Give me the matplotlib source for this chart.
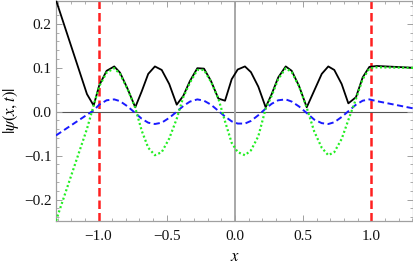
import matplotlib
matplotlib.use('Agg')
import matplotlib.pyplot as plt
from matplotlib.ticker import MultipleLocator

# sample points shared by all three curves
x = [-1.312, -1.085, -1.036, -0.995, -0.941, -0.885, -0.843, -0.787, -0.731, -0.684,
     -0.636, -0.587, -0.537, -0.482, -0.427, -0.379, -0.330, -0.276, -0.227, -0.176,
     -0.122, -0.073, -0.024, 0.020, 0.073, 0.117, 0.171, 0.225, 0.269, 0.317,
     0.372, 0.416, 0.469, 0.526, 0.581, 0.636, 0.684, 0.728, 0.782, 0.831,
     0.887, 0.936, 0.985, 1.040, 1.307]
# |psi|
psi_abs = [0.254, 0.040, 0.014, 0.060, 0.093, 0.103, 0.089, 0.052, 0.010, 0.046,
           0.086, 0.103, 0.095, 0.063, 0.016, 0.036, 0.070, 0.099, 0.098, 0.070,
           0.030, 0.025, 0.074, 0.096, 0.103, 0.090, 0.057, 0.010, 0.040, 0.078,
           0.103, 0.093, 0.059, 0.010, 0.048, 0.086, 0.103, 0.095, 0.063, 0.019,
           0.033, 0.078, 0.102, 0.104, 0.100]
# real part
psi_re = [-0.248, -0.039, 0.014, 0.058, 0.089, 0.099, 0.086, 0.051, 0.009, -0.043,
          -0.082, -0.099, -0.092, -0.061, -0.016, 0.033, 0.066, 0.095, 0.095, 0.068,
          0.030, -0.022, -0.071, -0.092, -0.099, -0.088, -0.056, 0.007, 0.036, 0.074,
          0.099, 0.090, 0.058, 0.009, -0.045, -0.082, -0.099, -0.092, -0.062, -0.019,
          0.029, 0.074, 0.098, 0.101, 0.0997]
# imaginary part
psi_im = [-0.054, -0.007, 0.003, 0.016, 0.026, 0.028, 0.024, 0.012, -0.003, -0.016,
          -0.025, -0.028, -0.025, -0.014, 0.000, 0.013, 0.023, 0.028, 0.025, 0.016,
          0.002, -0.011, -0.022, -0.027, -0.027, -0.021, -0.008, 0.007, 0.018, 0.026,
          0.028, 0.023, 0.012, -0.003, -0.018, -0.026, -0.028, -0.024, -0.012, 0.001,
          0.016, 0.025, 0.028, 0.024, 0.0075]
walls = [-1.0, 1.0]

plt.rcParams['font.family'] = ['Liberation Serif', 'DejaVu Serif']
plt.rcParams['mathtext.fontset'] = 'stix'

fig = plt.figure(figsize=(4.14, 2.65), dpi=100)
ax = fig.add_axes([56 / 414, 1 - 220.7 / 265, 357 / 414, 220.2 / 265])

frame_c = '#a0a0a0'
ax.axhline(0, color='#555555', lw=0.8, zorder=1)
ax.axvline(0, color='#a8a8a8', lw=1.4, zorder=1)
for w in walls:
    ax.axvline(w, color='#ff2020', lw=1.8, ls=(0, (3.4, 1.6)), zorder=2)

ax.plot(x, psi_abs, color='black', lw=1.3, zorder=3)
ax.plot(x, psi_im, color='#1a1aff', lw=1.4, ls=(0, (3.2, 1.8)), zorder=4)
ax.plot(x, psi_re, color='#22ee22', lw=1.6, ls=(0, (0.9, 1.1)), zorder=5)

ax.set_xlim(-1.312, 1.305)
ax.set_ylim(-0.248, 0.253)
ax.xaxis.set_major_locator(MultipleLocator(0.5))
ax.xaxis.set_minor_locator(MultipleLocator(0.1))
ax.yaxis.set_major_locator(MultipleLocator(0.1))
ax.yaxis.set_minor_locator(MultipleLocator(0.02))
ax.xaxis.set_major_formatter(plt.FuncFormatter(lambda v, p: f'{v:.1f}'.replace('-', '\u2212')))
ax.yaxis.set_major_formatter(plt.FuncFormatter(lambda v, p: f'{v:.1f}'.replace('-', '\u2212')))

ax.tick_params(which='both', direction='in', top=True, right=True, color=frame_c,
               labelsize=11, labelcolor='#111111')
ax.tick_params(which='major', length=4, width=0.7)
ax.tick_params(which='minor', length=2, width=0.6)
ax.tick_params(axis='x', pad=7)
ax.tick_params(axis='y', pad=3)
for s in ax.spines.values():
    s.set_color(frame_c)
    s.set_linewidth(0.9)

ax.set_xlabel(r'$x$', fontsize=12, labelpad=4)
ax.set_ylabel(r'$|\psi(x,t)|$', fontsize=12, labelpad=2)

fig.savefig('out.png', dpi=100)
